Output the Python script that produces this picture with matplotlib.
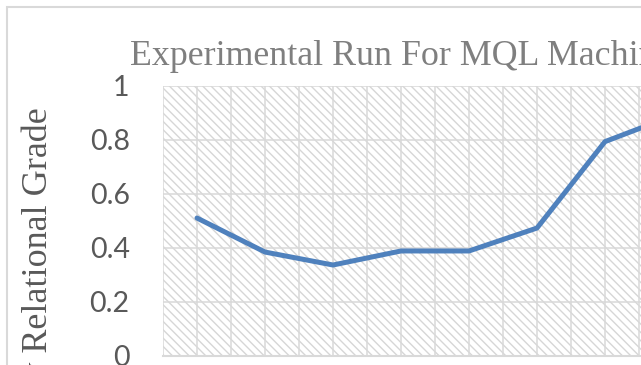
import numpy as np
import matplotlib
matplotlib.use("Agg")
import matplotlib.pyplot as plt
from matplotlib.patches import Rectangle

# grey relational grade per experimental run
runs = [1, 2, 3, 4, 5, 6, 7, 8]
grade = [0.511, 0.385, 0.337, 0.389, 0.389, 0.474, 0.794, 0.89]
y_ticks = [0, 0.2, 0.4, 0.6, 0.8, 1]
y_tick_labels = ["0", "0.2", "0.4", "0.6", "0.8", "1"]

W, H = 641, 365
plt.rcParams["hatch.linewidth"] = 1.0

fig = plt.figure(figsize=(W / 100, H / 100), dpi=100)
fig.patch.set_facecolor("white")

# chart frame (light grey border round the whole chart)
fig.add_artist(Rectangle((7 / W, -0.2), 1.5, (H - 7) / H + 0.2,
                         transform=fig.transFigure, fill=False,
                         edgecolor="#D9D9D9", linewidth=1.5))

ax = fig.add_axes([163 / W, (H - 356) / H, (W - 163) / W, 270 / H])
ax.set_facecolor("white")

# diagonal hatch fill of the plot area
ax.add_patch(Rectangle((0, 0), 1, 1, transform=ax.transAxes,
                       facecolor="white", edgecolor="#D6D6D6",
                       hatch="\\\\\\\\", linewidth=0, zorder=0.2))

x = np.arange(len(runs))
ax.plot(x, grade, color="#4F81BD", linewidth=3.6,
        solid_joinstyle="round", solid_capstyle="round", zorder=3)

ax.set_xlim(-0.5, (W - 197) / 68)
ax.set_ylim(0, 1)

ax.set_xticks(np.arange(-0.5, 7, 0.5))
ax.set_yticks(y_ticks)
ax.set_yticklabels(y_tick_labels)
ax.grid(True, color="#D9D9D9", linewidth=1.1, zorder=0.5)
ax.set_axisbelow(True)

ax.tick_params(axis="x", length=0, labelbottom=False)
ax.tick_params(axis="y", length=0, pad=24, labelsize=20.5, labelcolor="#595959")
for lbl in ax.get_yticklabels():
    lbl.set_fontfamily("Lato")

for side in ("top", "right", "left"):
    ax.spines[side].set_visible(False)
ax.spines["bottom"].set_color("#D9D9D9")
ax.spines["bottom"].set_linewidth(1.5)

fig.text(130 / W, (H - 65) / H, "Experimental Run For MQL Machining",
         ha="left", va="baseline", fontsize=25.8, color="#7F7F7F",
         family="Liberation Serif")

fig.text(38 / W, (H - 107) / H, "Grey Relational Grade", rotation=90,
         ha="center", va="top", fontsize=26.0, color="#595959",
         family="Liberation Serif")

fig.savefig("out.png", dpi=100)
